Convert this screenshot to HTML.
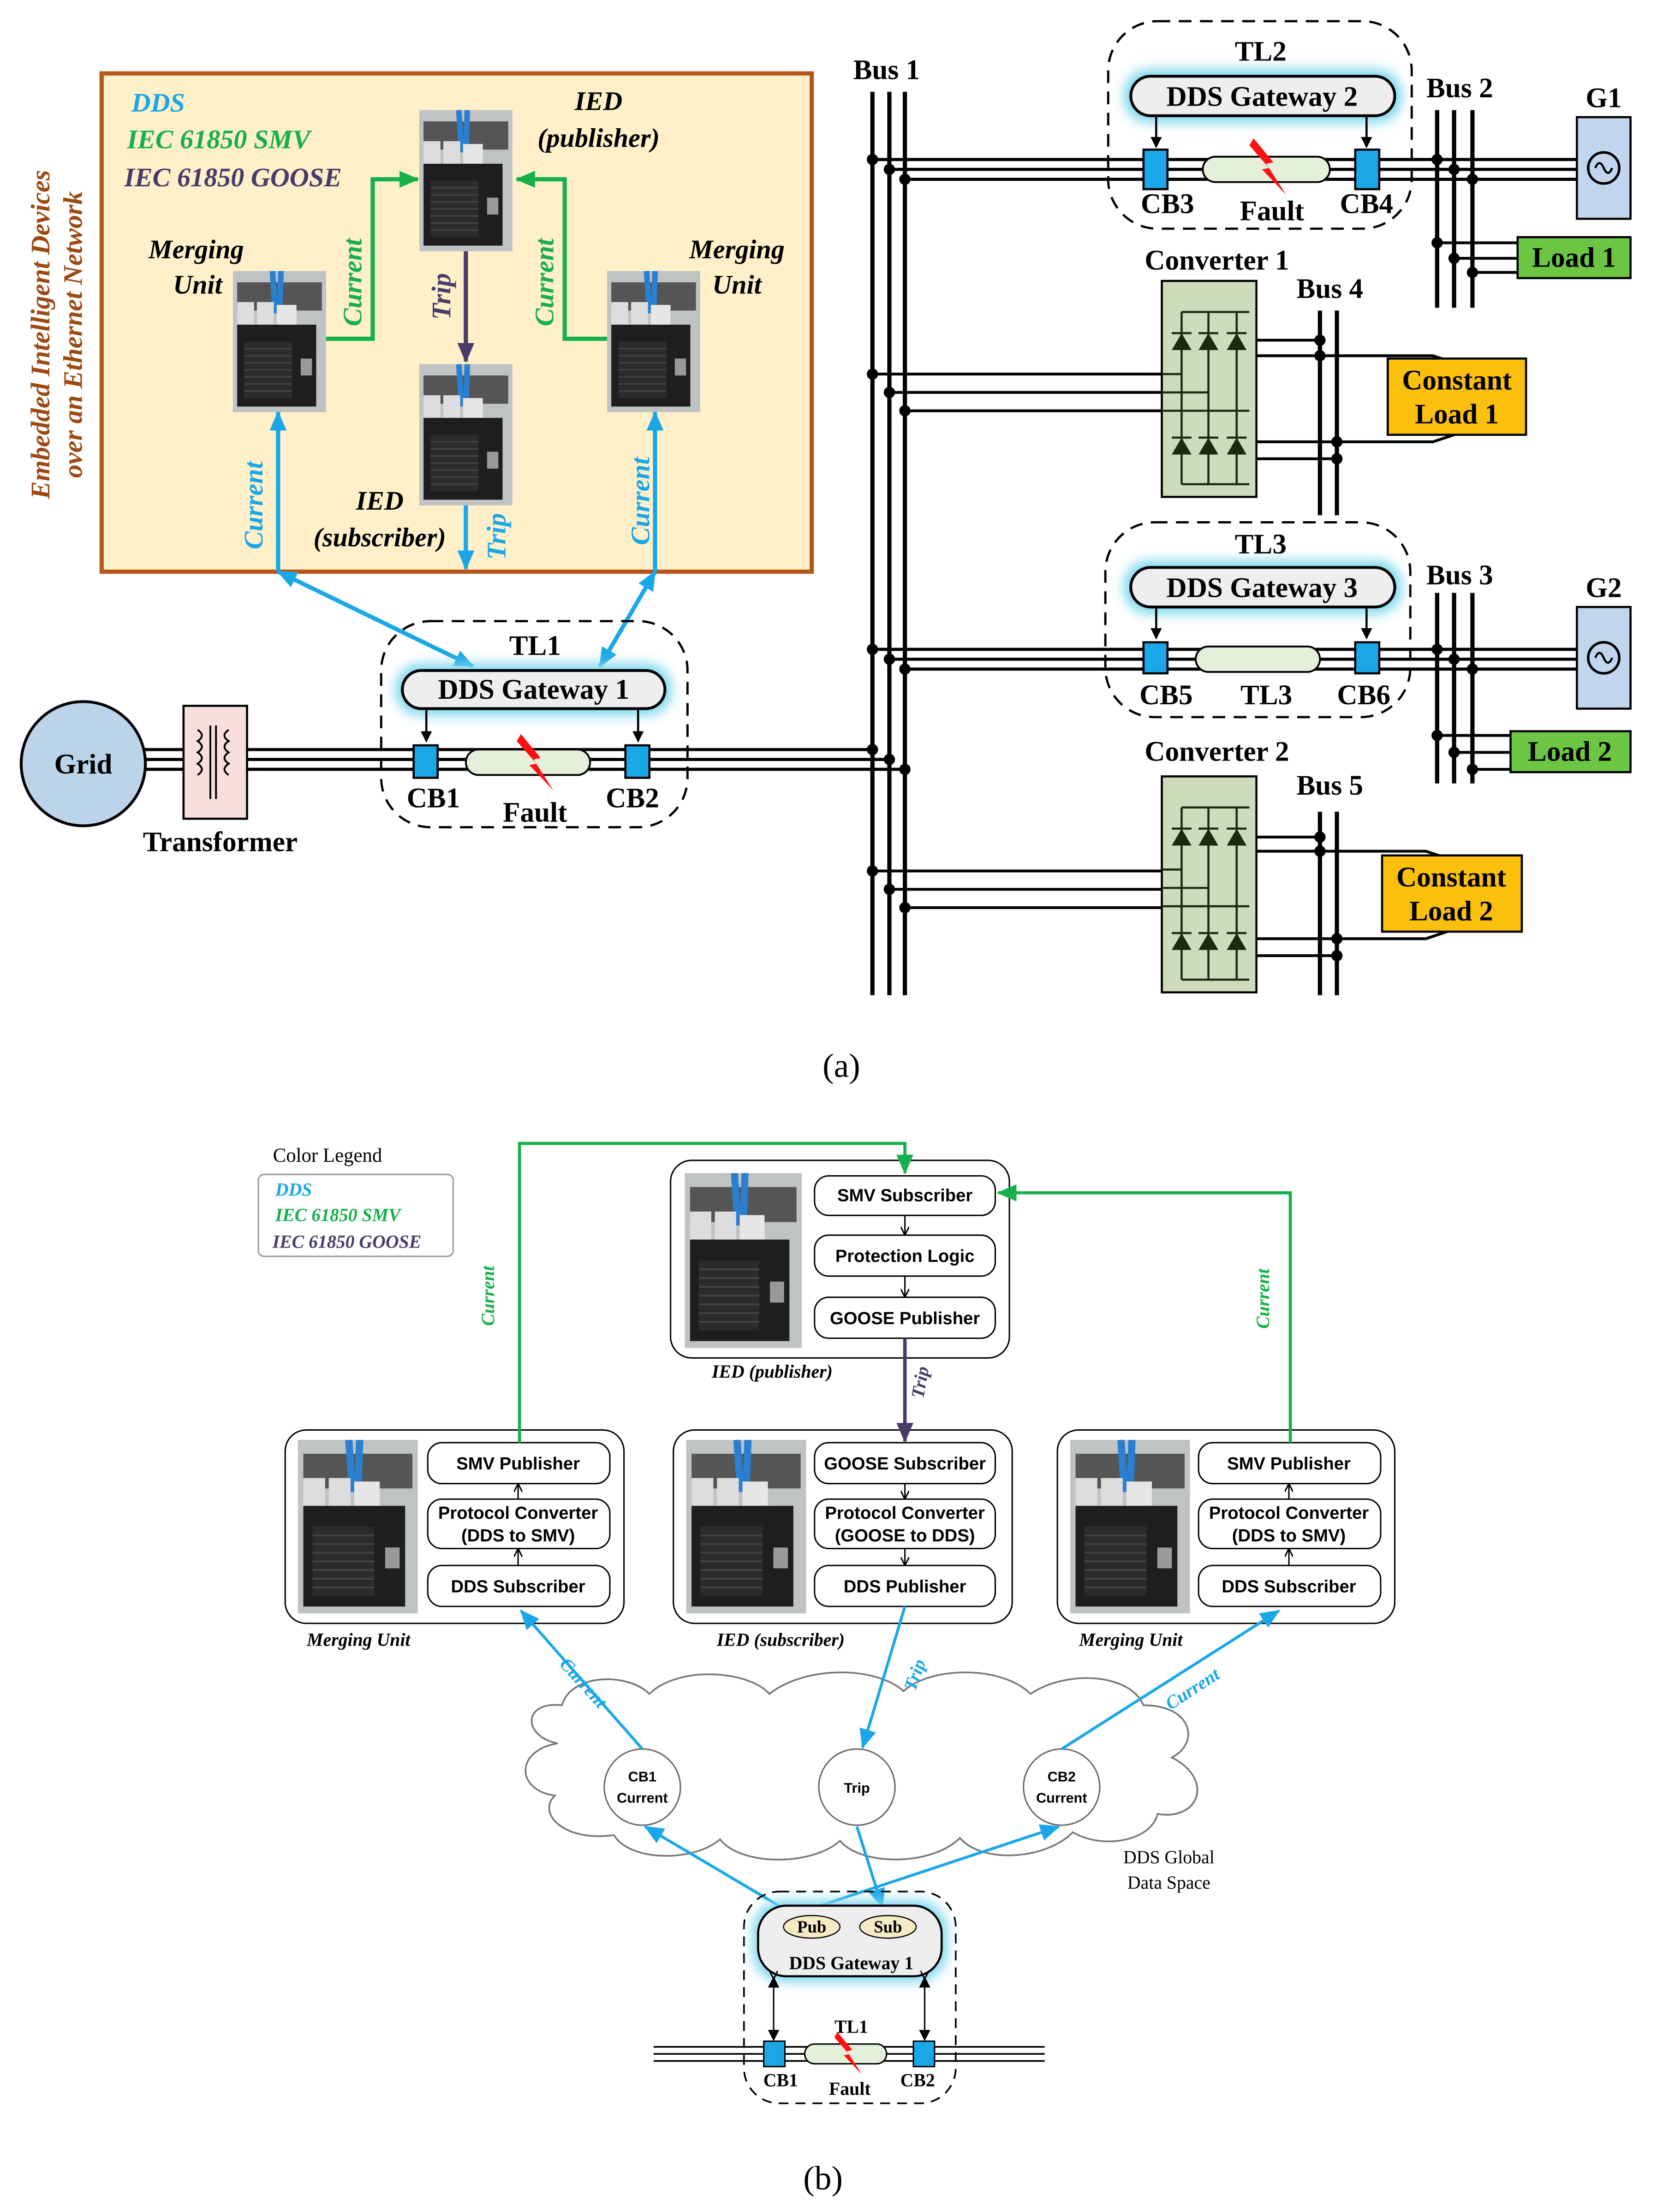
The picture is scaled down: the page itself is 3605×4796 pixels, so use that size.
<!DOCTYPE html>
<html><head><meta charset="utf-8"><style>
html,body{margin:0;padding:0;background:#fff}
svg{display:block}
.s{font-family:"Liberation Serif",serif;font-weight:bold}
.si{font-family:"Liberation Serif",serif;font-weight:bold;font-style:italic}
.ss{font-family:"Liberation Sans",sans-serif;font-weight:bold}
</style></head><body>
<svg width="3605" height="4796" viewBox="0 0 1178 1567" preserveAspectRatio="none" xmlns="http://www.w3.org/2000/svg">
<defs>
<filter id="gl" x="-20%" y="-50%" width="140%" height="200%"><feGaussianBlur stdDeviation="4"/></filter>
<marker id="ak" markerWidth="8" markerHeight="8" refX="7" refY="4" orient="auto" markerUnits="userSpaceOnUse"><path d="M0,0 L8,4 L0,8 z" fill="#000"/></marker>
<marker id="akb" markerWidth="14" markerHeight="12" refX="13" refY="6" orient="auto" markerUnits="userSpaceOnUse"><path d="M0,0 L14,6 L0,12 z" fill="#1aa7e8"/></marker>
<marker id="akbs" markerWidth="14" markerHeight="12" refX="1" refY="6" orient="auto" markerUnits="userSpaceOnUse"><path d="M14,0 L0,6 L14,12 z" fill="#1aa7e8"/></marker>
<marker id="akg" markerWidth="14" markerHeight="12" refX="13" refY="6" orient="auto" markerUnits="userSpaceOnUse"><path d="M0,0 L14,6 L0,12 z" fill="#16b04a"/></marker>
<marker id="akp" markerWidth="14" markerHeight="12" refX="13" refY="6" orient="auto" markerUnits="userSpaceOnUse"><path d="M0,0 L14,6 L0,12 z" fill="#4a3a6a"/></marker>
<marker id="aks" markerWidth="6" markerHeight="6" refX="5" refY="3" orient="auto" markerUnits="userSpaceOnUse"><path d="M0,0 L6,3 L0,6" fill="none" stroke="#000" stroke-width="1"/></marker>
<g id="board">
<rect x="0" y="0" width="66" height="100" fill="#bfc3c4"/>
<rect x="3" y="8" width="60" height="20" fill="#555"/>
<path d="M28,0 L30,30 M34,0 L33,30" stroke="#2a7fd0" stroke-width="4"/>
<rect x="3" y="22" width="12" height="16" fill="#ddd"/><rect x="17" y="22" width="12" height="16" fill="#ddd"/><rect x="31" y="24" width="14" height="18" fill="#e6e6e6"/>
<rect x="3" y="38" width="56" height="58" fill="#1e1e1e"/>
<rect x="8" y="50" width="34" height="40" fill="#2b2b2b"/>
<path d="M8,55 H42 M8,60 H42 M8,65 H42 M8,70 H42 M8,75 H42 M8,80 H42 M8,85 H42" stroke="#444" stroke-width="1"/>
<rect x="48" y="62" width="8" height="12" fill="#999"/>
</g>
<g id="bolt"><path d="M-9,-22 L5,-5 L0,-4 L14,18 L-3,0 L2,-1 L-12,-17 z" fill="#ff1010"/></g>
</defs>

<!-- ============ PART A ============ -->
<rect x="72" y="52" width="503" height="353" fill="#fff0c9" stroke="#b5561a" stroke-width="3"/>
<text class="si" font-size="19" fill="#9c4a12" transform="translate(35,237) rotate(-90)" text-anchor="middle">Embedded Intelligent Devices</text>
<text class="si" font-size="19" fill="#9c4a12" transform="translate(58,237) rotate(-90)" text-anchor="middle">over an Ethernet Network</text>
<text class="si" font-size="19" fill="#1aa7e8" x="93" y="79">DDS</text>
<text class="si" font-size="19" fill="#16b04a" x="90" y="105">IEC 61850 SMV</text>
<text class="si" font-size="19" fill="#4a3a6a" x="88" y="132">IEC 61850 GOOSE</text>
<use href="#board" x="297" y="78"/>
<use href="#board" x="165" y="192"/>
<use href="#board" x="430" y="192"/>
<use href="#board" x="297" y="258"/>
<text class="si" font-size="19" x="424" y="78" text-anchor="middle">IED</text>
<text class="si" font-size="19" x="424" y="104" text-anchor="middle">(publisher)</text>
<text class="si" font-size="19" x="139" y="183" text-anchor="middle">Merging</text>
<text class="si" font-size="19" x="140" y="208" text-anchor="middle">Unit</text>
<text class="si" font-size="19" x="522" y="183" text-anchor="middle">Merging</text>
<text class="si" font-size="19" x="522" y="208" text-anchor="middle">Unit</text>
<text class="si" font-size="19" x="269" y="361" text-anchor="middle">IED</text>
<text class="si" font-size="19" x="269" y="387" text-anchor="middle">(subscriber)</text>
<path d="M231,240 H264 V127 H296" fill="none" stroke="#16b04a" stroke-width="3" marker-end="url(#akg)"/>
<path d="M430,240 H400 V127 H366" fill="none" stroke="#16b04a" stroke-width="3" marker-end="url(#akg)"/>
<text class="si" font-size="19" fill="#16b04a" transform="translate(256,200) rotate(-90)" text-anchor="middle">Current</text>
<text class="si" font-size="19" fill="#16b04a" transform="translate(392,200) rotate(-90)" text-anchor="middle">Current</text>
<path d="M330,178 V256" stroke="#4a3a6a" stroke-width="3" marker-end="url(#akp)"/>
<text class="si" font-size="19" fill="#4a3a6a" transform="translate(319,210) rotate(-90)" text-anchor="middle">Trip</text>
<path d="M330,358 V403" stroke="#1aa7e8" stroke-width="3" marker-end="url(#akb)"/>
<text class="si" font-size="19" fill="#1aa7e8" transform="translate(358,380) rotate(-90)" text-anchor="middle">Trip</text>
<path d="M197,405 V292" stroke="#1aa7e8" stroke-width="3" marker-end="url(#akb)"/>
<path d="M464,405 V292" stroke="#1aa7e8" stroke-width="3" marker-end="url(#akb)"/>
<path d="M197,405 L335,472" stroke="#1aa7e8" stroke-width="3" marker-start="url(#akbs)" marker-end="url(#akb)"/>
<path d="M464,405 L425,472" stroke="#1aa7e8" stroke-width="3" marker-start="url(#akbs)" marker-end="url(#akb)"/>
<text class="si" font-size="19" fill="#1aa7e8" transform="translate(186,358) rotate(-90)" text-anchor="middle">Current</text>
<text class="si" font-size="19" fill="#1aa7e8" transform="translate(460,355) rotate(-90)" text-anchor="middle">Current</text>

<!-- TL1 -->
<rect x="270" y="440" width="217" height="146" rx="35" fill="none" stroke="#000" stroke-width="1.6" stroke-dasharray="9,6"/>
<text class="s" font-size="20" x="379" y="464" text-anchor="middle">TL1</text>
<rect x="280" y="470" width="196" height="37" rx="18" fill="#7fd8ee" filter="url(#gl)"/>
<rect x="285" y="475" width="186" height="27" rx="13.5" fill="#eee" stroke="#000" stroke-width="2"/>
<text class="s" font-size="20" x="378" y="495" text-anchor="middle">DDS Gateway 1</text>
<path d="M302,502 V525" stroke="#000" stroke-width="1.5" marker-end="url(#ak)"/>
<path d="M452,502 V525" stroke="#000" stroke-width="1.5" marker-end="url(#ak)"/>
<path d="M100,531 H618 M100,538 H630 M100,545 H641" stroke="#000" stroke-width="2.2"/>
<circle cx="59" cy="541" r="44" fill="#bcd4ea" stroke="#000" stroke-width="2"/>
<text class="s" font-size="20" x="59" y="548" text-anchor="middle">Grid</text>
<rect x="130" y="500" width="45" height="80" fill="#f9dede" stroke="#000" stroke-width="1.5"/>
<path d="M140,517 q6,4 0,8 q6,4 0,8 q6,4 0,8 q6,4 0,8 M162,517 q-6,4 0,8 q-6,4 0,8 q-6,4 0,8 q-6,4 0,8 M149,514 V566 M153,514 V566" fill="none" stroke="#000" stroke-width="1.3"/>
<rect x="330" y="531" width="88" height="18" rx="9" fill="#e4f0da" stroke="#000" stroke-width="1.3"/>
<rect x="293" y="528" width="17" height="23" fill="#1aa7e8" stroke="#000" stroke-width="1.5"/>
<rect x="443" y="528" width="17" height="23" fill="#1aa7e8" stroke="#000" stroke-width="1.5"/>
<use href="#bolt" x="378" y="542"/>
<text class="s" font-size="20" x="307" y="572" text-anchor="middle">CB1</text>
<text class="s" font-size="20" x="379" y="582" text-anchor="middle">Fault</text>
<text class="s" font-size="20" x="448" y="572" text-anchor="middle">CB2</text>
<text class="s" font-size="20" x="156" y="603" text-anchor="middle">Transformer</text>

<!-- Bus 1 -->
<path d="M618,65 V705 M630,65 V705 M641,65 V705" stroke="#000" stroke-width="3"/>
<text class="s" font-size="20" x="628" y="56" text-anchor="middle">Bus 1</text>
<g fill="#000"><circle cx="618" cy="531" r="4"/><circle cx="630" cy="538" r="4"/><circle cx="641" cy="545" r="4"/></g>

<!-- TL2 -->
<rect x="785" y="15" width="215" height="147" rx="35" fill="none" stroke="#000" stroke-width="1.6" stroke-dasharray="9,6"/>
<text class="s" font-size="20" x="893" y="43" text-anchor="middle">TL2</text>
<rect x="796" y="49" width="197" height="38" rx="18" fill="#7fd8ee" filter="url(#gl)"/>
<rect x="801" y="54" width="187" height="28" rx="14" fill="#eee" stroke="#000" stroke-width="2"/>
<text class="s" font-size="20" x="894" y="75" text-anchor="middle">DDS Gateway 2</text>
<path d="M819,82 V104" stroke="#000" stroke-width="1.5" marker-end="url(#ak)"/>
<path d="M968,82 V104" stroke="#000" stroke-width="1.5" marker-end="url(#ak)"/>
<path d="M618,113 H1117 M630,120 H1117 M641,127 H1117" stroke="#000" stroke-width="2.2"/>
<rect x="852" y="111" width="90" height="18" rx="9" fill="#e4f0da" stroke="#000" stroke-width="1.3"/>
<rect x="810" y="106" width="17" height="28" fill="#1aa7e8" stroke="#000" stroke-width="1.5"/>
<rect x="960" y="106" width="17" height="28" fill="#1aa7e8" stroke="#000" stroke-width="1.5"/>
<use href="#bolt" x="897" y="120"/>
<text class="s" font-size="20" x="827" y="151" text-anchor="middle">CB3</text>
<text class="s" font-size="20" x="901" y="156" text-anchor="middle">Fault</text>
<text class="s" font-size="20" x="968" y="151" text-anchor="middle">CB4</text>
<g fill="#000"><circle cx="618" cy="113" r="4"/><circle cx="630" cy="120" r="4"/><circle cx="641" cy="127" r="4"/></g>
<!-- Bus 2 -->
<path d="M1018,78 V218 M1030,78 V218 M1043,78 V218" stroke="#000" stroke-width="3"/>
<text class="s" font-size="20" x="1034" y="69" text-anchor="middle">Bus 2</text>
<g fill="#000"><circle cx="1018" cy="113" r="4"/><circle cx="1030" cy="120" r="4"/><circle cx="1043" cy="127" r="4"/><circle cx="1018" cy="172" r="4"/><circle cx="1030" cy="183" r="4"/><circle cx="1043" cy="193" r="4"/></g>
<rect x="1117" y="83" width="38" height="72" fill="#c1d6ee" stroke="#000" stroke-width="1.5"/>
<circle cx="1136" cy="119" r="11" fill="none" stroke="#000" stroke-width="1.8"/>
<path d="M1130,119 q3,-7 6,0 q3,7 6,0" fill="none" stroke="#000" stroke-width="1.5"/>
<text class="s" font-size="20" x="1136" y="76" text-anchor="middle">G1</text>
<path d="M1018,172 H1075 M1030,183 H1075 M1043,193 H1075" stroke="#000" stroke-width="2"/>
<rect x="1075" y="168" width="80" height="29" fill="#6cc644" stroke="#000" stroke-width="1.5"/>
<text class="s" font-size="20" x="1115" y="189" text-anchor="middle">Load 1</text>

<!-- Converter 1 -->
<text class="s" font-size="20" x="862" y="191" text-anchor="middle">Converter 1</text>
<g id="conv1">
<rect x="823" y="199" width="67" height="153" fill="#cfdcbc" stroke="#000" stroke-width="1.5"/>
<path d="M837,221 H885 M837,221 V343 M856,221 V343 M876,221 V343 M837,343 H885" stroke="#1e2a10" stroke-width="1.5" fill="none"/>
<path d="M830,248 l7,-12 l7,12 z M849,248 l7,-12 l7,12 z M869,248 l7,-12 l7,12 z M830,322 l7,-12 l7,12 z M849,322 l7,-12 l7,12 z M869,322 l7,-12 l7,12 z" fill="#1e2a10"/>
<path d="M830,236 H844 M849,236 H863 M869,236 H883 M830,310 H844 M849,310 H863 M869,310 H883" stroke="#1e2a10" stroke-width="1.5"/>
<path d="M823,265 H837 M823,278 H856 M823,291 H885" stroke="#1e2a10" stroke-width="1.5"/>
</g>
<path d="M618,265 H823 M630,278 H823 M641,291 H823" stroke="#000" stroke-width="2"/>
<g fill="#000"><circle cx="618" cy="265" r="4"/><circle cx="630" cy="278" r="4"/><circle cx="641" cy="291" r="4"/></g>
<path d="M935,220 V365 M947,220 V365" stroke="#000" stroke-width="3"/>
<text class="s" font-size="20" x="942" y="211" text-anchor="middle">Bus 4</text>
<path d="M890,241 H935 M890,252 H1015 L1030,257 M890,313 H1015 L1030,308 M890,325 H947" stroke="#000" stroke-width="2" fill="none"/>
<g fill="#000"><circle cx="935" cy="241" r="4"/><circle cx="935" cy="252" r="4"/><circle cx="947" cy="313" r="4"/><circle cx="947" cy="325" r="4"/></g>
<rect x="983" y="254" width="98" height="54" fill="#fbbf0d" stroke="#000" stroke-width="1.5"/>
<text class="s" font-size="20" x="1032" y="276" text-anchor="middle">Constant</text>
<text class="s" font-size="20" x="1032" y="300" text-anchor="middle">Load 1</text>

<!-- TL3 -->
<rect x="783" y="370" width="216" height="138" rx="35" fill="none" stroke="#000" stroke-width="1.6" stroke-dasharray="9,6"/>
<text class="s" font-size="20" x="893" y="392" text-anchor="middle">TL3</text>
<rect x="796" y="397" width="197" height="38" rx="18" fill="#7fd8ee" filter="url(#gl)"/>
<rect x="801" y="402" width="187" height="28" rx="14" fill="#eee" stroke="#000" stroke-width="2"/>
<text class="s" font-size="20" x="894" y="423" text-anchor="middle">DDS Gateway 3</text>
<path d="M819,430 V452" stroke="#000" stroke-width="1.5" marker-end="url(#ak)"/>
<path d="M968,430 V452" stroke="#000" stroke-width="1.5" marker-end="url(#ak)"/>
<path d="M618,460 H1117 M630,467 H1117 M641,474 H1117" stroke="#000" stroke-width="2.2"/>
<rect x="847" y="458" width="88" height="18" rx="9" fill="#e4f0da" stroke="#000" stroke-width="1.3"/>
<rect x="810" y="455" width="17" height="22" fill="#1aa7e8" stroke="#000" stroke-width="1.5"/>
<rect x="960" y="455" width="17" height="22" fill="#1aa7e8" stroke="#000" stroke-width="1.5"/>
<text class="s" font-size="20" x="826" y="499" text-anchor="middle">CB5</text>
<text class="s" font-size="20" x="897" y="499" text-anchor="middle">TL3</text>
<text class="s" font-size="20" x="966" y="499" text-anchor="middle">CB6</text>
<g fill="#000"><circle cx="618" cy="460" r="4"/><circle cx="630" cy="467" r="4"/><circle cx="641" cy="474" r="4"/></g>
<path d="M1018,420 V555 M1030,420 V555 M1043,420 V555" stroke="#000" stroke-width="3"/>
<text class="s" font-size="20" x="1034" y="414" text-anchor="middle">Bus 3</text>
<g fill="#000"><circle cx="1018" cy="460" r="4"/><circle cx="1030" cy="467" r="4"/><circle cx="1043" cy="474" r="4"/><circle cx="1018" cy="521" r="4"/><circle cx="1030" cy="533" r="4"/><circle cx="1043" cy="545" r="4"/></g>
<rect x="1117" y="430" width="38" height="72" fill="#c1d6ee" stroke="#000" stroke-width="1.5"/>
<circle cx="1136" cy="466" r="11" fill="none" stroke="#000" stroke-width="1.8"/>
<path d="M1130,466 q3,-7 6,0 q3,7 6,0" fill="none" stroke="#000" stroke-width="1.5"/>
<text class="s" font-size="20" x="1136" y="423" text-anchor="middle">G2</text>
<path d="M1018,521 H1070 M1030,533 H1070 M1043,545 H1070" stroke="#000" stroke-width="2"/>
<rect x="1070" y="518" width="85" height="29" fill="#6cc644" stroke="#000" stroke-width="1.5"/>
<text class="s" font-size="20" x="1112" y="539" text-anchor="middle">Load 2</text>

<!-- Converter 2 -->
<text class="s" font-size="20" x="862" y="539" text-anchor="middle">Converter 2</text>
<use href="#conv1" x="0" y="351"/>
<path d="M618,617 H823 M630,630 H823 M641,643 H823" stroke="#000" stroke-width="2"/>
<g fill="#000"><circle cx="618" cy="617" r="4"/><circle cx="630" cy="630" r="4"/><circle cx="641" cy="643" r="4"/></g>
<path d="M935,575 V705 M947,575 V705" stroke="#000" stroke-width="3"/>
<text class="s" font-size="20" x="942" y="563" text-anchor="middle">Bus 5</text>
<path d="M890,593 H935 M890,603 H1010 L1025,608 M890,665 H1010 L1025,660 M890,677 H947" stroke="#000" stroke-width="2" fill="none"/>
<g fill="#000"><circle cx="935" cy="593" r="4"/><circle cx="935" cy="603" r="4"/><circle cx="947" cy="665" r="4"/><circle cx="947" cy="677" r="4"/></g>
<rect x="979" y="606" width="99" height="54" fill="#fbbf0d" stroke="#000" stroke-width="1.5"/>
<text class="s" font-size="20" x="1028" y="628" text-anchor="middle">Constant</text>
<text class="s" font-size="20" x="1028" y="652" text-anchor="middle">Load 2</text>

<text font-family="Liberation Serif,serif" font-size="24" x="596" y="763" text-anchor="middle">(a)</text>

<!-- ============ PART B ============ -->
<text font-family="Liberation Serif,serif" font-size="14" x="232" y="823" text-anchor="middle">Color Legend</text>
<rect x="183" y="832" width="138" height="58" rx="4" fill="#fff" stroke="#999" stroke-width="1"/>
<text class="si" font-size="13" fill="#1aa7e8" x="195" y="847">DDS</text>
<text class="si" font-size="13" fill="#16b04a" x="195" y="865">IEC 61850 SMV</text>
<text class="si" font-size="13" fill="#4a3a6a" x="193" y="884">IEC 61850 GOOSE</text>

<!-- IED publisher -->
<rect x="475" y="822" width="240" height="140" rx="15" fill="#fff" stroke="#000" stroke-width="1"/>
<svg x="485" y="831" width="83" height="124" viewBox="0 0 66 100" preserveAspectRatio="none"><use href="#board"/></svg>
<g font-size="12.5">
<rect x="577" y="833" width="128" height="28" rx="10" fill="#fff" stroke="#000"/><text class="ss" x="641" y="851" text-anchor="middle">SMV Subscriber</text>
<rect x="577" y="875" width="128" height="29" rx="10" fill="#fff" stroke="#000"/><text class="ss" x="641" y="894" text-anchor="middle">Protection Logic</text>
<rect x="577" y="919" width="128" height="29" rx="10" fill="#fff" stroke="#000"/><text class="ss" x="641" y="938" text-anchor="middle">GOOSE Publisher</text>
</g>
<path d="M641,861 V874" stroke="#000" marker-end="url(#aks)"/>
<path d="M641,904 V918" stroke="#000" marker-end="url(#aks)"/>
<text class="si" font-size="13" x="547" y="976" text-anchor="middle">IED (publisher)</text>

<!-- MU left -->
<rect x="202" y="1013" width="240" height="137" rx="15" fill="#fff" stroke="#000" stroke-width="1"/>
<svg x="211" y="1020" width="85" height="123" viewBox="0 0 66 100" preserveAspectRatio="none"><use href="#board"/></svg>
<g font-size="12.5">
<rect x="303" y="1022" width="129" height="29" rx="10" fill="#fff" stroke="#000"/><text class="ss" x="367" y="1041" text-anchor="middle">SMV Publisher</text>
<rect x="303" y="1062" width="129" height="35" rx="10" fill="#fff" stroke="#000"/><text class="ss" x="367" y="1076" text-anchor="middle">Protocol Converter</text><text class="ss" x="367" y="1092" text-anchor="middle">(DDS to SMV)</text>
<rect x="303" y="1109" width="129" height="29" rx="10" fill="#fff" stroke="#000"/><text class="ss" x="367" y="1128" text-anchor="middle">DDS Subscriber</text>
</g>
<path d="M367,1109 V1098" stroke="#000" marker-end="url(#aks)"/>
<path d="M367,1062 V1052" stroke="#000" marker-end="url(#aks)"/>
<text class="si" font-size="13" x="254" y="1166" text-anchor="middle">Merging Unit</text>

<!-- IED subscriber -->
<rect x="477" y="1013" width="240" height="137" rx="15" fill="#fff" stroke="#000" stroke-width="1"/>
<svg x="486" y="1020" width="85" height="123" viewBox="0 0 66 100" preserveAspectRatio="none"><use href="#board"/></svg>
<g font-size="12.5">
<rect x="577" y="1022" width="128" height="29" rx="10" fill="#fff" stroke="#000"/><text class="ss" x="641" y="1041" text-anchor="middle">GOOSE Subscriber</text>
<rect x="577" y="1062" width="128" height="35" rx="10" fill="#fff" stroke="#000"/><text class="ss" x="641" y="1076" text-anchor="middle">Protocol Converter</text><text class="ss" x="641" y="1092" text-anchor="middle">(GOOSE to DDS)</text>
<rect x="577" y="1109" width="128" height="29" rx="10" fill="#fff" stroke="#000"/><text class="ss" x="641" y="1128" text-anchor="middle">DDS Publisher</text>
</g>
<path d="M641,1051 V1061" stroke="#000" marker-end="url(#aks)"/>
<path d="M641,1097 V1108" stroke="#000" marker-end="url(#aks)"/>
<text class="si" font-size="13" x="553" y="1166" text-anchor="middle">IED (subscriber)</text>

<!-- MU right -->
<rect x="749" y="1013" width="239" height="137" rx="15" fill="#fff" stroke="#000" stroke-width="1"/>
<svg x="758" y="1020" width="85" height="123" viewBox="0 0 66 100" preserveAspectRatio="none"><use href="#board"/></svg>
<g font-size="12.5">
<rect x="849" y="1022" width="129" height="29" rx="10" fill="#fff" stroke="#000"/><text class="ss" x="913" y="1041" text-anchor="middle">SMV Publisher</text>
<rect x="849" y="1062" width="129" height="35" rx="10" fill="#fff" stroke="#000"/><text class="ss" x="913" y="1076" text-anchor="middle">Protocol Converter</text><text class="ss" x="913" y="1092" text-anchor="middle">(DDS to SMV)</text>
<rect x="849" y="1109" width="129" height="29" rx="10" fill="#fff" stroke="#000"/><text class="ss" x="913" y="1128" text-anchor="middle">DDS Subscriber</text>
</g>
<path d="M913,1109 V1098" stroke="#000" marker-end="url(#aks)"/>
<path d="M913,1062 V1052" stroke="#000" marker-end="url(#aks)"/>
<text class="si" font-size="13" x="801" y="1166" text-anchor="middle">Merging Unit</text>

<!-- green / purple -->
<path d="M368,1022 V810 H641 V831" fill="none" stroke="#16b04a" stroke-width="2.2" marker-end="url(#akg)"/>
<path d="M914,1022 V845 H707" fill="none" stroke="#16b04a" stroke-width="2.2" marker-end="url(#akg)"/>
<text class="si" font-size="13" fill="#16b04a" transform="translate(350,918) rotate(-90)" text-anchor="middle">Current</text>
<text class="si" font-size="13" fill="#16b04a" transform="translate(899,920) rotate(-90)" text-anchor="middle">Current</text>
<path d="M641,948 V1021" stroke="#4a3a6a" stroke-width="2.5" marker-end="url(#akp)"/>
<text class="si" font-size="13" fill="#4a3a6a" transform="translate(656,980) rotate(-80)" text-anchor="middle">Trip</text>

<!-- cloud -->
<path d="M395,1235 C370,1230 370,1205 398,1208 C405,1185 445,1185 460,1200 C480,1180 530,1183 545,1200 C570,1180 620,1180 640,1198 C660,1180 710,1180 730,1200 C755,1183 800,1185 810,1208 C845,1208 850,1235 830,1245 C860,1260 850,1290 820,1285 C815,1305 780,1310 760,1298 C740,1318 695,1320 680,1302 C660,1322 610,1322 595,1304 C575,1322 525,1322 510,1303 C490,1320 445,1318 435,1300 C400,1305 380,1285 393,1272 C365,1268 365,1240 395,1235 z" fill="#fff" stroke="#777" stroke-width="1.2"/>
<circle cx="455" cy="1266" r="27" fill="#fff" stroke="#666"/>
<circle cx="607" cy="1266" r="27" fill="#fff" stroke="#666"/>
<circle cx="752" cy="1266" r="27" fill="#fff" stroke="#666"/>
<g class="ss" font-size="10" text-anchor="middle">
<text x="455" y="1262">CB1</text><text x="455" y="1277">Current</text>
<text x="607" y="1270">Trip</text>
<text x="752" y="1262">CB2</text><text x="752" y="1277">Current</text>
</g>
<text font-family="Liberation Serif,serif" font-size="13" x="828" y="1320" text-anchor="middle">DDS Global</text>
<text font-family="Liberation Serif,serif" font-size="13" x="828" y="1338" text-anchor="middle">Data Space</text>

<g stroke="#1aa7e8" stroke-width="2" fill="none">
<path d="M455,1239 L369,1141" marker-end="url(#akb)"/>
<path d="M641,1138 L611,1238" marker-end="url(#akb)"/>
<path d="M752,1239 L906,1141" marker-end="url(#akb)"/>
<path d="M555,1352 L457,1294" marker-end="url(#akb)"/>
<path d="M575,1352 L750,1294" marker-end="url(#akb)"/>
<path d="M607,1294 L625,1351" marker-end="url(#akb)"/>
</g>
<text class="si" font-size="13" fill="#1aa7e8" transform="translate(410,1195) rotate(48)" text-anchor="middle">Current</text>
<text class="si" font-size="13" fill="#1aa7e8" transform="translate(652,1188) rotate(-70)" text-anchor="middle">Trip</text>
<text class="si" font-size="13" fill="#1aa7e8" transform="translate(847,1200) rotate(-33)" text-anchor="middle">Current</text>

<!-- bottom gateway -->
<rect x="527" y="1340" width="150" height="150" rx="25" fill="none" stroke="#000" stroke-width="1.2" stroke-dasharray="7,5"/>
<rect x="533" y="1346" width="138" height="58" rx="22" fill="#7fd8ee" filter="url(#gl)"/>
<rect x="537" y="1350" width="130" height="50" rx="20" fill="#eee" stroke="#000" stroke-width="1.5"/>
<ellipse cx="575" cy="1365" rx="20" ry="8" fill="#f5ebc4" stroke="#000" stroke-width="0.8"/>
<ellipse cx="629" cy="1365" rx="20" ry="8" fill="#f5ebc4" stroke="#000" stroke-width="0.8"/>
<text class="s" font-size="12" x="575" y="1369" text-anchor="middle">Pub</text>
<text class="s" font-size="12" x="629" y="1369" text-anchor="middle">Sub</text>
<text class="s" font-size="13" x="603" y="1395" text-anchor="middle">DDS Gateway 1</text>
<path d="M548,1401 V1445" stroke="#000" marker-start="url(#aks)" marker-end="url(#ak)"/>
<path d="M655,1401 V1445" stroke="#000" marker-start="url(#aks)" marker-end="url(#ak)"/>
<path d="M548,1420 V1401" stroke="#000" marker-end="url(#ak)"/>
<path d="M655,1420 V1401" stroke="#000" marker-end="url(#ak)"/>
<path d="M463,1450 H740 M463,1455 H740 M463,1460 H740" stroke="#000" stroke-width="1.2"/>
<rect x="570" y="1448" width="58" height="14" rx="7" fill="#e4f0da" stroke="#000"/>
<rect x="541" y="1446" width="15" height="18" fill="#1aa7e8" stroke="#000"/>
<rect x="647" y="1446" width="15" height="18" fill="#1aa7e8" stroke="#000"/>
<g transform="translate(600,1456) scale(0.75)"><use href="#bolt"/></g>
<text class="s" font-size="13" x="603" y="1440" text-anchor="middle">TL1</text>
<text class="s" font-size="13" x="553" y="1478" text-anchor="middle">CB1</text>
<text class="s" font-size="13" x="602" y="1484" text-anchor="middle">Fault</text>
<text class="s" font-size="13" x="650" y="1478" text-anchor="middle">CB2</text>

<text font-family="Liberation Serif,serif" font-size="24" x="583" y="1551" text-anchor="middle">(b)</text>
</svg>
</body></html>
